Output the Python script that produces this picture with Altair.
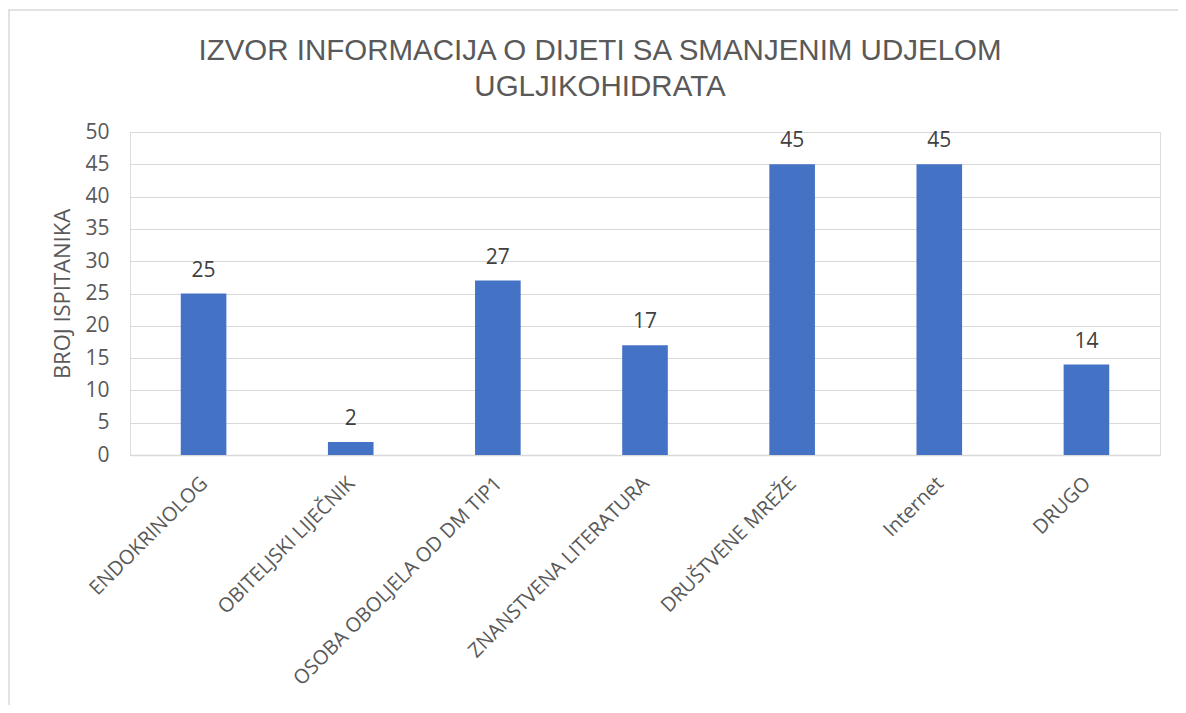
import altair as alt
import pandas as pd

categories = ["ENDOKRINOLOG", "OBITELJSKI LIJEČNIK", "OSOBA OBOLJELA OD DM TIP1",
              "ZNANSTVENA LITERATURA", "DRUŠTVENE MREŽE", "Internet", "DRUGO"]
values = [25, 2, 27, 17, 45, 45, 14]
y_ticks = [0, 5, 10, 15, 20, 25, 30, 35, 40, 45, 50]

df = pd.DataFrame({"cat": categories, "val": values})

FONT = "Open Sans"

x = alt.X("cat:N", sort=categories, title=None,
          scale=alt.Scale(paddingInner=0.69, paddingOuter=0.345),
          axis=alt.Axis(labelAngle=-45, labelAlign="right", labelBaseline="top",
                        labelFont=FONT, labelFontSize=20, labelColor="#595959",
                        labelPadding=18, labelOffset=-6, ticks=False, domain=True,
                        domainColor="#d9d9d9", domainWidth=1.5, labelLimit=400,
                        labelOverlap=False))
y = alt.Y("val:Q", title="BROJ ISPITANIKA",
          scale=alt.Scale(domain=[0, 50]),
          axis=alt.Axis(values=y_ticks, labelOverlap=False,
                        labelFont=FONT, labelFontSize=21,
                        labelColor="#595959", ticks=False, domain=False,
                        gridColor="#d9d9d9", gridWidth=1.2, labelPadding=21,
                        titleFont=FONT, titleFontSize=22, titleFontWeight="normal",
                        titleColor="#595959", titlePadding=10))

bars = alt.Chart(df).mark_bar(color="#4472C4").encode(x=x, y=y)
labels = alt.Chart(df).mark_text(dy=-23, font=FONT, fontSize=21, color="#404040").encode(
    x=x, y=y, text="val:Q")

frame = alt.Chart(pd.DataFrame({"a": [0]})).mark_rect(
    fillOpacity=0, stroke="#d9d9d9", strokeWidth=1.5).encode(
    x=alt.value(-121), x2=alt.value(1200), y=alt.value(-122), y2=alt.value(900))

chart = (bars + labels + frame).properties(
    width=1030, height=323,
    autosize=alt.AutoSizeParams(type="none"),
    padding={"left": 122, "top": 124, "right": 18, "bottom": 250},
    title=alt.TitleParams(
        text=["IZVOR INFORMACIJA O DIJETI SA SMANJENIM UDJELOM", "UGLJIKOHIDRATA"],
        font="Liberation Sans", fontSize=29.5, fontWeight="normal", color="#595959",
        anchor="middle", dx=-45, offset=-93, lineHeight=36),
).configure_view(stroke=None).configure(background="white")

chart.save("out.html", embed_options={"renderer": "svg", "actions": False})
